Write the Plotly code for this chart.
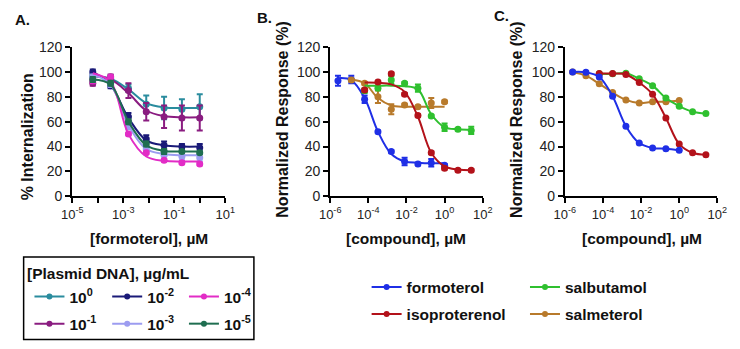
import plotly.graph_objects as go

# ---------------- Panel A data ----------------
conc_A = [6.4e-5, 3.2e-4, 1.6e-3, 8e-3, 0.04, 0.2, 1.0]
labels_A = ["10<sup>0</sup>", "10<sup>-1</sup>", "10<sup>-2</sup>",
            "10<sup>-3</sup>", "10<sup>-4</sup>", "10<sup>-5</sup>"]
colors_A = ["#2a8c9e", "#8a1c80", "#1a1a78", "#9c9cf0", "#e22cc6", "#1f6e50"]

a_1e0 = [96, 95, 87, 74, 71, 70, 72]
a_1e0_err = [2, 2, 3, 7, 9, 8, 10]
a_1e0_fit = [96.5, 94.5, 86, 75, 71.5, 71, 71]

a_1e1 = [91, 96, 85, 68, 64, 63, 63]
a_1e1_err = [2, 2, 6, 7, 9, 10, 10]
a_1e1_fit = [97, 94, 83, 69, 64.5, 63.5, 63.5]

a_1e2 = [100, 89, 64, 46, 41, 40, 39]
a_1e2_err = [2, 2, 3, 3, 3, 2, 3]
a_1e2_fit = [100, 89.5, 63, 45, 41, 40, 40]

a_1e3 = [96, 90, 57, 38, 33, 32, 31]
a_1e3_err = [2, 2, 3, 2, 3, 3, 3]
a_1e3_fit = [98, 90, 57, 38, 34, 33, 33]

a_1e4 = [93, 96, 50, 35, 29, 27, 26]
a_1e4_err = [2, 1, 1, 1, 1, 1, 1]
a_1e4_fit = [99, 92, 50, 32, 28.5, 28, 28]

a_1e5 = [94, 91, 60, 42, 36, 36, 35]
a_1e5_err = [2, 2, 2, 2, 2, 1, 1]
a_1e5_fit = [94, 90, 60, 41, 36.5, 36, 36]

series_A = [
    (a_1e0, a_1e0_err, a_1e0_fit),
    (a_1e1, a_1e1_err, a_1e1_fit),
    (a_1e2, a_1e2_err, a_1e2_fit),
    (a_1e3, a_1e3_err, a_1e3_fit),
    (a_1e4, a_1e4_err, a_1e4_fit),
    (a_1e5, a_1e5_err, a_1e5_fit),
]

# ---------------- Panel B / C data ----------------
conc_low = [2.56e-6, 1.28e-5, 6.4e-5, 3.2e-4, 1.6e-3, 8e-3, 0.04, 0.2, 1.0]
conc_high = [6.4e-5, 3.2e-4, 1.6e-3, 8e-3, 0.04, 0.2, 1.0, 5.0, 25.0]
conc_salm_B = [1.28e-5, 6.4e-5, 3.2e-4, 1.6e-3, 8e-3, 0.04, 0.2, 1.0]

compounds = ["formoterol", "isoproterenol", "salbutamol", "salmeterol"]
colors_BC = ["#1f2fe6", "#b3121a", "#2fc02f", "#b87a2b"]

b_form = [93, 94, 78, 52, 36, 28, 26, 27, 25]
b_form_err = [4, 3, 3, 1, 1, 3, 1, 3, 1]
b_form_fit = [95, 93.5, 79, 52, 34, 28, 27, 26.5, 26.5]

b_iso = [85.5, 92, 98.5, 82, 65, 35, 22.5, 21, 21]
b_iso_err = [1, 1, 1, 1, 1, 1, 1, 1, 1]
b_iso_fit = [91.5, 91.3, 90, 84, 64, 35, 24, 21.5, 21]

b_salb = [85, 87, 93.5, 91, 87, 64.5, 55.5, 54, 53]
b_salb_err = [2, 1, 3, 1, 3, 1, 3, 1, 3]
b_salb_fit = [89, 89, 89, 88.5, 86, 66, 55.5, 54, 53.5]

b_salm = [93.5, 91, 80, 70, 73.5, 72, 75, 76]
b_salm_err = [1, 1, 5, 4, 1, 1, 4, 1]
b_salm_fit = [94, 91, 79, 73, 72, 72, 72, 72]

c_form = [100, 99.7, 96, 80.5, 56.4, 42.8, 38.9, 38.2, 37]
c_iso = [98.7, 98.7, 98, 91.5, 82, 63, 42, 35, 33.3]
c_salb = [98.5, 98.5, 99, 94.5, 89, 79, 72.5, 68, 66.5]
c_salm = [100, 97, 90.5, 83.5, 77.5, 75, 76, 76, 77]

ticks_A = [1e-5, 1e-3, 1e-1, 10]
ticktext_A = ["10<sup>-5</sup>", "10<sup>-3</sup>", "10<sup>-1</sup>", "10<sup>1</sup>"]
minor_A = [1e-4, 1e-2, 1]
ticks_BC = [1e-6, 1e-4, 1e-2, 1, 100]
ticktext_BC = ["10<sup>-6</sup>", "10<sup>-4</sup>", "10<sup>-2</sup>", "10<sup>0</sup>", "10<sup>2</sup>"]
yticks = [0, 20, 40, 60, 80, 100, 120]

W, H = 740, 349
def px(x):
    return x / W
def py(y):
    return 1 - y / H

FONT = "Liberation Sans, Arial, sans-serif"
fig = go.Figure()

def add_points(x, y, err, color, xa, ya):
    fig.add_trace(go.Scatter(
        x=x, y=y, mode="markers", xaxis=xa, yaxis=ya, showlegend=False,
        marker=dict(color=color, size=7),
        error_y=dict(type="data", array=err, color=color, thickness=2, width=3),
        hoverinfo="skip"))

def add_curve(x, y, color, xa, ya, markers=False):
    fig.add_trace(go.Scatter(
        x=x, y=y, mode="lines+markers" if markers else "lines",
        xaxis=xa, yaxis=ya, showlegend=False,
        line=dict(color=color, width=2, shape="spline", smoothing=1.0),
        marker=dict(color=color, size=7), hoverinfo="skip"))

def add_legend(name, color, legend, group):
    fig.add_trace(go.Scatter(
        x=[None], y=[None], mode="lines+markers", name=name, legend=legend,
        legendgroup=group, showlegend=True,
        line=dict(color=color, width=2), marker=dict(color=color, size=6)))

# Panel A
for (vals, err, fit), col in zip(series_A, colors_A):
    add_curve(conc_A, fit, col, "x", "y")
    add_points(conc_A, vals, err, col, "x", "y")

# Panel B
add_curve(conc_low, b_form_fit, colors_BC[0], "x2", "y2")
add_points(conc_low, b_form, b_form_err, colors_BC[0], "x2", "y2")
add_curve(conc_salm_B, b_salm_fit, colors_BC[3], "x2", "y2")
add_points(conc_salm_B, b_salm, b_salm_err, colors_BC[3], "x2", "y2")
add_curve(conc_high, b_salb_fit, colors_BC[2], "x2", "y2")
add_points(conc_high, b_salb, b_salb_err, colors_BC[2], "x2", "y2")
add_curve(conc_high, b_iso_fit, colors_BC[1], "x2", "y2")
add_points(conc_high, b_iso, b_iso_err, colors_BC[1], "x2", "y2")

# Panel C
add_curve(conc_low, c_salm, colors_BC[3], "x3", "y3", markers=True)
add_curve(conc_high, c_salb, colors_BC[2], "x3", "y3", markers=True)
add_curve(conc_high, c_iso, colors_BC[1], "x3", "y3", markers=True)
add_curve(conc_low, c_form, colors_BC[0], "x3", "y3", markers=True)

# Legends for panel A (3 columns x 2 rows)
order_A = [(0, "legend"), (1, "legend"), (2, "legend2"), (3, "legend2"), (4, "legend3"), (5, "legend3")]
for i, lg in order_A:
    add_legend("<b>" + labels_A[i] + "</b>", colors_A[i], lg, "a%d" % i)
# Legends for panels B/C
order_B = [(0, "legend4"), (1, "legend4"), (2, "legend5"), (3, "legend5")]
for i, lg in order_B:
    add_legend("<b>" + compounds[i] + "</b>", colors_BC[i], lg, "b%d" % i)

def leg(xpix, ypix):
    return dict(x=px(xpix), y=py(ypix), xanchor="left", yanchor="top",
                orientation="v", bgcolor="rgba(0,0,0,0)", borderwidth=0,
                font=dict(family=FONT, size=15.5, color="#111"),
                tracegroupgap=4, traceorder="grouped", itemclick=False)

axis_common = dict(showline=True, linecolor="black", linewidth=2, ticks="outside",
                   ticklen=5, tickwidth=2, tickcolor="black", showgrid=False, zeroline=False)
xtickfont = dict(family=FONT, size=13, color="#222")
ytickfont = dict(family=FONT, size=14, color="#222")
minor_style = dict(ticks="outside", ticklen=5, tickwidth=2, tickcolor="black", showgrid=False)

ydom = [py(197.3), py(41)]
fig.update_layout(
    width=W, height=H, margin=dict(l=0, r=0, t=0, b=0),
    paper_bgcolor="white", plot_bgcolor="white",
    xaxis=dict(domain=[px(63), px(220.5)], type="log", range=[-5, 1], anchor="y",
               tickmode="array", tickvals=ticks_A, ticktext=ticktext_A, tickfont=xtickfont,
               minor=dict(tickmode="array", tickvals=minor_A, **minor_style), **axis_common),
    yaxis=dict(domain=ydom, range=[0, 120], anchor="x", tickmode="array", tickvals=yticks,
               tickfont=ytickfont, **axis_common),
    xaxis2=dict(domain=[px(328.5), px(485.5)], type="log", range=[-6, 2], anchor="y2",
                tickmode="array", tickvals=ticks_BC, ticktext=ticktext_BC, tickfont=xtickfont,
                **axis_common),
    yaxis2=dict(domain=ydom, range=[0, 120], anchor="x2", tickmode="array", tickvals=yticks,
                tickfont=ytickfont, **axis_common),
    xaxis3=dict(domain=[px(570), px(727)], type="log", range=[-6, 2], anchor="y3",
                tickmode="array", tickvals=ticks_BC, ticktext=ticktext_BC, tickfont=xtickfont,
                **axis_common),
    yaxis3=dict(domain=ydom, range=[0, 120], anchor="x3", tickmode="array", tickvals=yticks,
                tickfont=ytickfont, **axis_common),
    legend=leg(19, 285),
    legend2=leg(99, 285),
    legend3=leg(178, 285),
    legend4=leg(366, 275),
    legend5=leg(529, 275),
    showlegend=True,
)

def ann(text, x, y, size=16, angle=0, xanchor="center"):
    fig.add_annotation(text="<b>" + text + "</b>", x=px(x), y=py(y), xref="paper", yref="paper",
                       showarrow=False, textangle=angle, xanchor=xanchor, yanchor="middle",
                       font=dict(family=FONT, size=size, color="#111"))

ann("A.", 2, 12, size=15, xanchor="left")
ann("B.", 251, 10, size=15, xanchor="left")
ann("C.", 495, 8, size=15, xanchor="left")
ann("% Internalization", 17, 135, angle=-90)
ann("Normalized Response (%)", 280, 117, angle=-90)
ann("Normalized Response (%)", 520, 117, angle=-90)
ann("[formoterol], µM", 142, 242, size=15.5)
ann("[compound], µM", 407, 242, size=15.5)
ann("[compound], µM", 649, 242, size=15.5)
ann("[Plasmid DNA], µg/mL", 14, 278, size=15.5, xanchor="left")

fig.add_shape(type="rect", xref="paper", yref="paper",
              x0=px(13), x1=px(250), y0=py(347.5), y1=py(261),
              line=dict(color="black", width=1.5), fillcolor="rgba(0,0,0,0)")

fig.write_html("out.html", config={"displayModeBar": False, "staticPlot": True},
               post_script="document.body.style.margin='0';document.body.style.padding='0';"
                           "document.body.style.overflow='hidden';"
                           "document.documentElement.style.overflow='hidden';")
